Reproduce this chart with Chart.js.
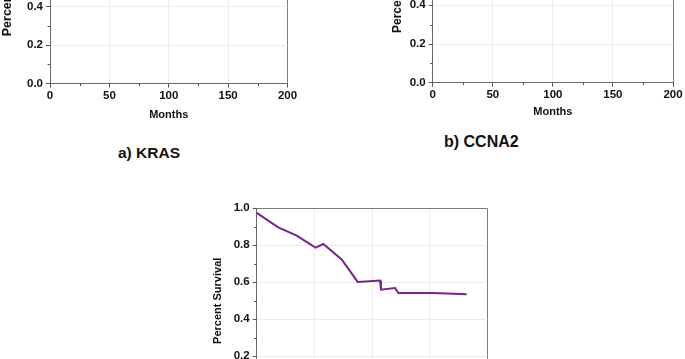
<!DOCTYPE html>
<html><head><meta charset="utf-8">
<script src="https://cdn.jsdelivr.net/npm/chart.js@4.4.1/dist/chart.umd.min.js"></script>
<style>
html,body{margin:0;padding:0;background:#fff;width:685px;height:359px;overflow:hidden;position:relative}
canvas{position:absolute}
.cap{position:absolute;font-family:'Liberation Sans',Arial,sans-serif;font-weight:bold;color:#111;white-space:nowrap;line-height:1}
</style></head><body>
<canvas id="cA" width="300" height="270" style="left:0;top:-140px"></canvas>
<canvas id="cB" width="300" height="270" style="left:385px;top:-140px"></canvas>
<canvas id="cC" width="300" height="260" style="left:200px;top:190px"></canvas>
<div class="cap" id="capA" style="left:118px;top:145.3px;font-size:15.5px"></div>
<div class="cap" id="capB" style="left:444px;top:134.2px;font-size:16px"></div>
<script>
// ---- data ----
const PANEL_LABELS = ['a) KRAS', 'b) CCNA2'];
const X_TITLE = 'Months';
const Y_TITLE = 'Percent Survival';
const X_TICKS = [0, 50, 100, 150, 200];
const Y_TICKS = [0.0, 0.2, 0.4, 0.6, 0.8, 1.0];
// top panels: curves lie above the visible part of the picture (not readable)
const KRAS_MONTHS = [];
const KRAS_SURVIVAL = [];
const CCNA2_MONTHS = [];
const CCNA2_SURVIVAL = [];
// bottom panel
const KM_MONTHS   = [0,     18.7,  34.7,  51,    57.8,  73.7,  87.6,  107,   107.8, 120,   122.8, 153,   182];
const KM_SURVIVAL = [0.975, 0.897, 0.852, 0.787, 0.807, 0.724, 0.602, 0.610, 0.560, 0.569, 0.542, 0.542, 0.535];

document.getElementById('capA').textContent = PANEL_LABELS[0];
document.getElementById('capB').textContent = PANEL_LABELS[1];

const FAMILY = "'Liberation Sans', Arial, sans-serif";
const tickFont = {family: FAMILY, size: 11.5, weight: 'bold'};
const AXIS = '#666';
const GRID = '#ebebeb';
const FRAME = '#7a7a7a';

const minorTicks = {
  id: 'minorTicks',
  afterDraw(chart) {
    const ctx = chart.ctx, xs = chart.scales.x, ys = chart.scales.y;
    ctx.save();
    ctx.strokeStyle = '#555';
    ctx.lineWidth = 1;
    ctx.beginPath();
    for (let i = 0; i < X_TICKS.length - 1; i++) {
      const px = Math.round(xs.getPixelForValue((X_TICKS[i] + X_TICKS[i + 1]) / 2)) + 0.5;
      ctx.moveTo(px, xs.top); ctx.lineTo(px, xs.top + 2.5);
    }
    for (let i = 0; i < Y_TICKS.length - 1; i++) {
      const py = Math.round(ys.getPixelForValue((Y_TICKS[i] + Y_TICKS[i + 1]) / 2)) + 0.5;
      ctx.moveTo(ys.right, py); ctx.lineTo(ys.right - 2.5, py);
    }
    ctx.stroke();
    ctx.restore();
  }
};

function toPoints(xs, ys) { return xs.map((m, i) => ({x: m, y: ys[i]})); }

function makeChart(id, datasets, g) {
  const xMax = X_TICKS[X_TICKS.length - 1], yMax = Y_TICKS[Y_TICKS.length - 1];
  return new Chart(document.getElementById(id), {
    type: 'line',
    data: {datasets},
    options: {
      responsive: false,
      animation: false,
      devicePixelRatio: 1,
      layout: {padding: {left: g.padL, right: g.padR, top: g.padT, bottom: g.padB}},
      plugins: {legend: {display: false}, tooltip: {enabled: false}},
      elements: {point: {radius: 0}, line: {tension: 0}},
      scales: {
        x: {
          type: 'linear', min: X_TICKS[0], max: xMax,
          afterBuildTicks: s => { s.ticks = X_TICKS.map(v => ({value: v})); },
          afterFit: s => { s.height = g.xH; s.paddingLeft = 0; s.paddingRight = 0; s.paddingTop = 0; s.paddingBottom = 0; },
          ticks: {font: tickFont, color: '#111', padding: 1, maxRotation: 0, autoSkip: false, callback: v => String(v)},
          grid: {color: c => (c.tick && c.tick.value === xMax) ? FRAME : GRID, tickColor: '#555', tickLength: 4, lineWidth: 1},
          border: {color: AXIS, width: 1},
          title: {display: true, text: X_TITLE, font: {family: FAMILY, size: 11, weight: 'bold'}, color: '#111', padding: 0}
        },
        y: {
          type: 'linear', min: Y_TICKS[0], max: yMax,
          afterBuildTicks: s => { s.ticks = Y_TICKS.map(v => ({value: v})); },
          afterFit: s => { s.width = g.yW; s.paddingLeft = 0; s.paddingRight = 0; s.paddingTop = 0; s.paddingBottom = 0; },
          ticks: {font: tickFont, color: '#111', padding: 3, autoSkip: false, callback: v => Number(v).toFixed(1)},
          grid: {color: c => (c.tick && Math.abs(c.tick.value - yMax) < 1e-9) ? FRAME : GRID, tickColor: '#555', tickLength: 4, lineWidth: 1},
          border: {color: AXIS, width: 1},
          title: {display: true, text: Y_TITLE, font: {family: FAMILY, size: g.yTitle, weight: 'bold'}, color: '#111', padding: 0}
        }
      }
    },
    plugins: [minorTicks]
  });
}

const lineStyle = {borderColor: '#7b2190', borderWidth: 2, pointRadius: 0, fill: false};

makeChart('cA', [Object.assign({label: 'KRAS', data: toPoints(KRAS_MONTHS, KRAS_SURVIVAL)}, lineStyle)],
  {padL: 0, yW: 50, padR: 12.5, padT: 31, xH: 38.1, padB: 8.4, yTitle: 12.5});
makeChart('cB', [Object.assign({label: 'CCNA2', data: toPoints(CCNA2_MONTHS, CCNA2_SURVIVAL)}, lineStyle)],
  {padL: 5.1, yW: 42.6, padR: 12, padT: 29.2, xH: 35.6, padB: 11.7, yTitle: 12});
makeChart('cC', [Object.assign({label: 'Survival', data: toPoints(KM_MONTHS, KM_SURVIVAL)}, lineStyle)],
  {padL: 11.7, yW: 45, padR: 12.7, padT: 18.3, xH: 38, padB: 18.7, yTitle: 11});
</script>
</body></html>
